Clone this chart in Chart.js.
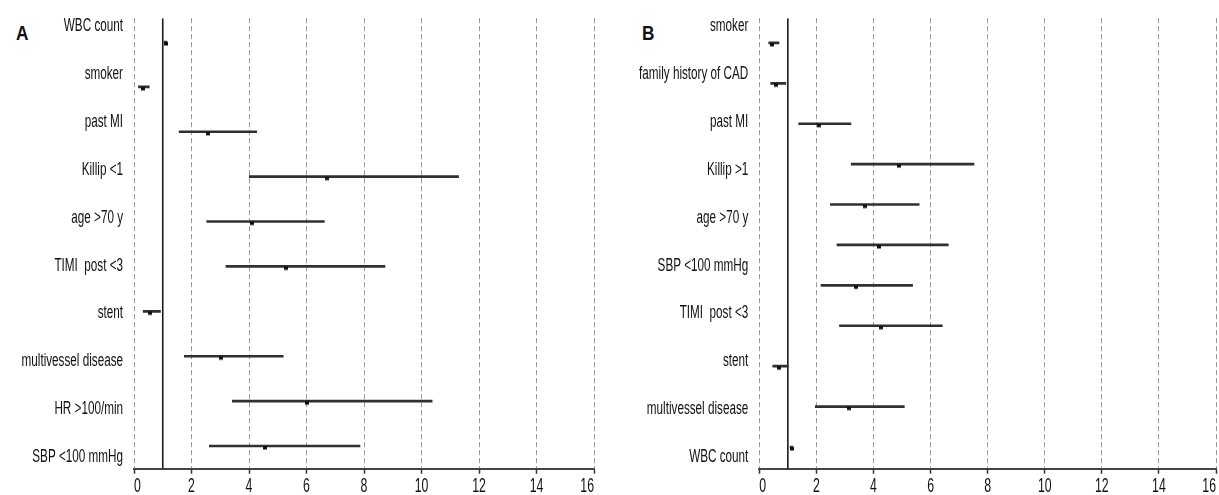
<!DOCTYPE html>
<html><head><meta charset="utf-8">
<script src="https://cdn.jsdelivr.net/npm/chart.js@4/dist/chart.umd.min.js"></script>
<style>
html,body{margin:0;padding:0;background:#fff;width:1219px;height:495px;overflow:hidden}
#ca{position:absolute;left:0;top:0}
#cb{position:absolute;left:610px;top:0}
.tag{position:absolute;font-family:"Liberation Sans",Arial,sans-serif;font-weight:bold;font-size:21px;color:#111;line-height:1;transform:scaleX(0.82);transform-origin:left top}
</style></head><body>
<div class="tag" style="left:16px;top:22px">A</div>
<div class="tag" style="left:642px;top:22px">B</div>
<canvas id="ca" width="610" height="495"></canvas>
<canvas id="cb" width="611" height="495"></canvas>
<script>
// ---- data ----
const xTickValues = [0, 2, 4, 6, 8, 10, 12, 14, 16];
const referenceValue = 1;

const rowsA   = ['WBC count','smoker','past MI','Killip <1','age >70 y','TIMI  post <3','stent','multivessel disease','HR >100/min','SBP <100 mmHg'];
const labelsA = ['WBC count','smoker','past MI','Killip <1','age >70 y','TIMI  post <3','stent','multivessel disease','HR >100/min','SBP <100 mmHg'];
const estA = [1.10, 0.33, 2.57, 6.72, 4.09, 5.29, 0.56, 3.01, 6.00, 4.57];
const loA  = [1.05, 0.15, 1.57, 4.01, 2.53, 3.20, 0.32, 1.75, 3.42, 2.62];
const hiA  = [1.15, 0.53, 4.27, 11.29, 6.62, 8.73, 0.92, 5.19, 10.37, 7.86];

const rowsB   = ['smoker','family history of CAD','past MI','Killip >1','age >70 y','(unlabelled row)','SBP <100 mmHg','TIMI  post <3','stent','multivessel disease','WBC count'];
const labelsB = ['smoker','family history of CAD','past MI','Killip >1','age >70 y','SBP <100 mmHg','TIMI  post <3','stent','multivessel disease','WBC count'];
const estB = [0.46, 0.59, 2.09, 4.90, 3.71, 4.19, 3.40, 4.26, 0.68, 3.14, 1.13];
const loB  = [0.33, 0.40, 1.38, 3.22, 2.49, 2.72, 2.16, 2.81, 0.47, 1.96, 1.08];
const hiB  = [0.69, 0.93, 3.21, 7.52, 5.60, 6.62, 5.37, 6.41, 1.01, 5.08, 1.18];

// ---- styling / layout ----
const FONT = '"Liberation Sans", Arial, sans-serif';

// draw a scale's tick labels horizontally condensed (like the original condensed typeface)
function condense(scale, k) {
  if (scale._condensed) return;
  scale._condensed = true;
  const orig = scale.drawLabels;
  scale.drawLabels = function (area) {
    const ctx = this.ctx;
    const nativeFill = ctx.fillText;
    ctx.fillText = function (t, x, y, mw) {
      this.save();
      this.translate(x, y);
      this.scale(k, 1);
      if (mw === undefined) nativeFill.call(this, t, 0, 0);
      else nativeFill.call(this, t, 0, 0, mw / k);
      this.restore();
    };
    try { orig.call(this, area); } finally { delete ctx.fillText; }
  };
}

function markerImage() {
  const c = document.createElement('canvas');
  c.width = 4; c.height = 10;
  const g = c.getContext('2d');
  g.fillStyle = '#111';
  g.fillRect(0, 5, 4, 3.5);
  return c;
}
const MARK = markerImage();

function build(id, rows, lo, hi, est, labels, geom) {
  const ci  = rows.map((n, i) => ({ y: i, x: [lo[i], hi[i]] }));
  const pts = rows.map((n, i) => ({ y: i, x: est[i] }));
  return new Chart(document.getElementById(id), {
    type: 'bar',
    data: {
      datasets: [
        { type: 'scatter', data: pts, pointStyle: MARK, pointRadius: 2, yAxisID: 'y', xAxisID: 'x', order: 0 },
        { type: 'bar', data: ci, indexAxis: 'y', backgroundColor: '#303030', borderWidth: 0, barThickness: 2, yAxisID: 'y', xAxisID: 'x', order: 1 },
        { type: 'line', data: [{ x: referenceValue, y: geom.dMin }, { x: referenceValue, y: geom.dMax }], borderColor: '#1a1a1a', borderWidth: 1.6, pointRadius: 0, yAxisID: 'y', xAxisID: 'x', order: 2 }
      ]
    },
    options: {
      responsive: false,
      animation: false,
      indexAxis: 'y',
      layout: { padding: { top: 18, right: geom.padRight, left: 0, bottom: 0 } },
      plugins: { legend: { display: false }, tooltip: { enabled: false }, title: { display: false } },
      scales: {
        x: {
          type: 'linear', position: 'bottom', min: 0, max: 16, offset: false,
          afterBuildTicks: s => { s.ticks = xTickValues.map(v => ({ value: v })); },
          ticks: { align: 'inner', color: '#111', font: { family: FONT, size: 20.5, lineHeight: 1 }, padding: 2, autoSkip: false, maxRotation: 0 },
          grid: { color: '#9a9a9a', lineWidth: 1, drawTicks: true, tickLength: 5, tickColor: '#333', tickWidth: 1.5, offset: false },
          border: { dash: [5, 3], color: '#444', width: 2 },
          afterFit: s => { s.height = 26.3; },
          afterUpdate: s => condense(s, 0.6)
        },
        y: { type: 'linear', display: false, reverse: true, min: geom.dMin, max: geom.dMax, offset: false, grid: { offset: false } },
        yl: {
          type: 'linear', position: 'left', reverse: true, min: geom.lMin, max: geom.lMax, offset: false,
          afterBuildTicks: s => { s.ticks = labels.map((_, i) => ({ value: i })); },
          ticks: { callback: v => labels[v], color: '#111', font: { family: FONT, size: 18, lineHeight: 0.8 }, padding: 11, autoSkip: false },
          grid: { display: false, drawTicks: false, offset: false },
          border: { display: false },
          afterFit: s => { s.width = geom.labelWidth; },
          afterUpdate: s => condense(s, 0.65)
        }
      }
    }
  });
}

build('ca', rowsA, loA, hiA, estA, labelsA,
  { dMin: -0.53, dMax: 9.506, lMin: -0.167, lMax: 9.244, labelWidth: 134, padRight: 16 });
build('cb', rowsB, loB, hiB, estB, labelsB,
  { dMin: -0.611, dMax: 10.537, lMin: -0.167, lMax: 9.244, labelWidth: 149.3, padRight: 0 });
</script>
</body></html>
